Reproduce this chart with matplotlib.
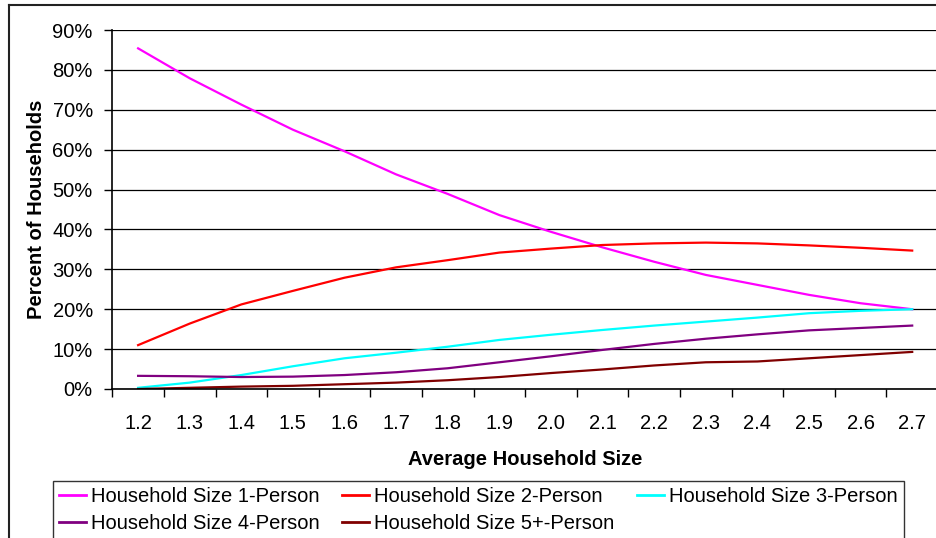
import matplotlib.pyplot as plt
from matplotlib.lines import Line2D

plt.rcParams['font.family'] = ['Liberation Sans', 'DejaVu Sans']

# Average household size categories
sizes = ['1.2', '1.3', '1.4', '1.5', '1.6', '1.7', '1.8', '1.9',
         '2.0', '2.1', '2.2', '2.3', '2.4', '2.5', '2.6', '2.7']

# Share of households by household size (fraction)
one_person = [0.854, 0.779, 0.713, 0.650, 0.596, 0.538, 0.489, 0.436,
              0.394, 0.355, 0.319, 0.286, 0.261, 0.236, 0.215, 0.200]
two_person = [0.110, 0.164, 0.212, 0.246, 0.279, 0.305, 0.323, 0.342,
              0.352, 0.361, 0.365, 0.367, 0.365, 0.360, 0.354, 0.347]
three_person = [0.003, 0.016, 0.035, 0.057, 0.077, 0.091, 0.106, 0.123,
                0.136, 0.148, 0.159, 0.169, 0.179, 0.190, 0.196, 0.200]
four_person = [0.033, 0.032, 0.030, 0.031, 0.035, 0.042, 0.052, 0.067,
               0.082, 0.098, 0.113, 0.126, 0.137, 0.147, 0.153, 0.159]
five_plus = [0.000, 0.003, 0.006, 0.008, 0.012, 0.016, 0.022, 0.030,
             0.040, 0.049, 0.059, 0.067, 0.069, 0.077, 0.085, 0.093]

series = [
    ('Household Size 1-Person', one_person, '#ff00ff'),
    ('Household Size 2-Person', two_person, '#ff0000'),
    ('Household Size 3-Person', three_person, '#00ffff'),
    ('Household Size 4-Person', four_person, '#800080'),
    ('Household Size 5+-Person', five_plus, '#800000'),
]

fig = plt.figure(figsize=(9.36, 5.38), dpi=100)
ax = fig.add_axes([112.3 / 936, 1 - 389 / 538, (938 - 112.3) / 936, 359 / 538])

x = list(range(len(sizes)))
lines = []
for label, vals, color in series:
    ln, = ax.plot(x, vals, color=color, lw=1.6, label=label)
    lines.append(ln)

ax.set_xlim(-0.5, len(sizes) - 0.5)
ax.set_ylim(0, 0.9)
ax.set_yticks([i / 10 for i in range(10)])
ax.set_yticklabels([f'{i * 10}%' for i in range(10)])
ax.yaxis.grid(True, color='black', lw=0.9)
ax.set_axisbelow(True)

ax.set_xticks([i - 0.5 for i in range(len(sizes) + 1)])
ax.set_xticklabels([])
ax.set_xticks(x, minor=True)
ax.set_xticklabels(sizes, minor=True)
ax.tick_params(axis='x', which='minor', length=0, pad=18, labelsize=14.5)
ax.tick_params(axis='x', which='major', length=6, width=1, color='black')
ax.tick_params(axis='y', length=6, width=1, pad=8, labelsize=14.5)

for side in ['top', 'right']:
    ax.spines[side].set_visible(False)
for side in ['left', 'bottom']:
    ax.spines[side].set_linewidth(1.2)
    ax.spines[side].set_color('black')

ax.set_xlabel('Average Household Size', fontsize=14.5, fontweight='bold', labelpad=12)
ax.set_ylabel('Percent of Households', fontsize=14.5, fontweight='bold', labelpad=5)

# legend fills column by column, so reorder to read row by row
order = [0, 3, 1, 4, 2]
leg = fig.legend([lines[i] for i in order], [series[i][0] for i in order],
                 loc='upper left', bbox_to_anchor=(53 / 936, 1 - 481 / 538),
                 ncol=3, fontsize=14.5, frameon=True, fancybox=False,
                 handlelength=1.35, handletextpad=0.25, columnspacing=1.1,
                 borderpad=0.3, labelspacing=0.4, borderaxespad=0)
leg.get_frame().set_edgecolor('black')
leg.get_frame().set_linewidth(1.0)
for h in leg.get_lines():
    h.set_linewidth(2)

# outer chart border (only left and top edges visible)
fig.add_artist(Line2D([9 / 936, 9 / 936], [0, 1 - 5 / 538], transform=fig.transFigure,
                      color='#222222', lw=1.5))
fig.add_artist(Line2D([9 / 936, 1], [1 - 5 / 538, 1 - 5 / 538], transform=fig.transFigure,
                      color='#222222', lw=1.5))

fig.savefig('out.png', dpi=100)
